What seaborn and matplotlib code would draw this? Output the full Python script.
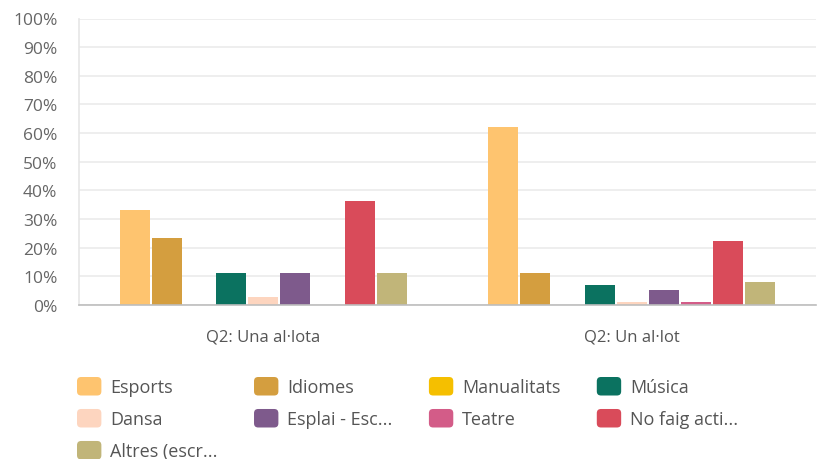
import matplotlib
matplotlib.use("Agg")
import matplotlib.pyplot as plt
from matplotlib.patches import FancyBboxPatch, Patch
from matplotlib.legend_handler import HandlerPatch
import seaborn as sns
import pandas as pd

# Survey answers (% of respondents) per group
groups = ["Q2: Una al·lota", "Q2: Un al·lot"]
activities = ["Esports", "Idiomes", "Manualitats", "Música", "Dansa",
              "Esplai - Esc...", "Teatre", "No faig acti...", "Altres (escr..."]
values_allota = [33.2, 23.3, 0.0, 11.1, 2.8, 11.1, 0.0, 36.3, 11.1]
values_allot = [62.2, 11.1, 0.0, 7.0, 1.2, 5.4, 1.2, 22.2, 8.0]
colors = ["#FEC46F", "#D49E3F", "#F5BF00", "#0B7260", "#FDD5BF",
          "#7E5A8C", "#D35C88", "#D94B5A", "#C1B579"]
yticks = [0, 10, 20, 30, 40, 50, 60, 70, 80, 90, 100]

rows = []
for g, vals in zip(groups, [values_allota, values_allot]):
    for a, v in zip(activities, vals):
        rows.append({"grup": g, "activitat": a, "pct": v})
df = pd.DataFrame(rows)

sns.set_theme(style="white")
plt.rcParams["font.family"] = ["Open Sans", "DejaVu Sans"]

fig = plt.figure(figsize=(8.23, 4.60), dpi=100)
ax = fig.add_axes([79 / 823, 1 - 306 / 460, 737 / 823, 286.5 / 460])

sns.barplot(data=df, x="grup", y="pct", hue="activitat", hue_order=activities,
            order=groups, palette=colors, width=0.785, gap=0.06,
            legend=False, ax=ax, saturation=1, linewidth=0)

ax.set_xlim(-0.5, 1.5)
ax.set_ylim(0, 100)
ax.set_yticks(yticks)
ax.set_yticklabels([f"{t}%" for t in yticks])
ax.set_xlabel("")
ax.set_ylabel("")
ax.yaxis.grid(True, color="#EBEBEB", linewidth=1.2)
ax.set_axisbelow(True)
for s in ["top", "right"]:
    ax.spines[s].set_visible(False)
ax.spines["left"].set_color("#E6E6E6")
ax.spines["left"].set_linewidth(1.2)
ax.spines["bottom"].set_color("#BDBDBD")
ax.spines["bottom"].set_linewidth(1.2)
ax.tick_params(axis="y", length=0, pad=15.5, labelsize=12.5, labelcolor="#666666")
ax.tick_params(axis="x", length=0, pad=17, labelsize=12, labelcolor="#555555")


class RoundedHandler(HandlerPatch):
    def create_artists(self, legend, orig_handle, xdescent, ydescent,
                       width, height, fontsize, trans):
        p = FancyBboxPatch((-xdescent + 1.5, -ydescent + 1.5), width - 3, height - 3,
                           boxstyle="round,pad=1.5,rounding_size=3",
                           facecolor=orig_handle.get_facecolor(),
                           edgecolor="none", transform=trans)
        return [p]


# matplotlib fills legend columns first; reorder so rows read left to right
n_cols = 4
handles = [Patch(facecolor=c) for c in colors]
col_lists = [[], [], [], []]
for i, (h, lab) in enumerate(zip(handles, activities)):
    col_lists[i % n_cols].append((h, lab))
ordered = [item for col in col_lists for item in col]

leg = fig.legend([h for h, _ in ordered], [l for _, l in ordered],
                 ncol=n_cols, loc="upper left", bbox_to_anchor=(77 / 823, 1 - 378 / 460),
                 frameon=False, fontsize=13, handlelength=1.35, handleheight=1.2,
                 handletextpad=0.5, columnspacing=2.0, labelspacing=0.7,
                 handler_map={Patch: RoundedHandler()}, borderaxespad=0, borderpad=0)
for t in leg.get_texts():
    t.set_color("#555555")

fig.savefig("out.png", dpi=100)
